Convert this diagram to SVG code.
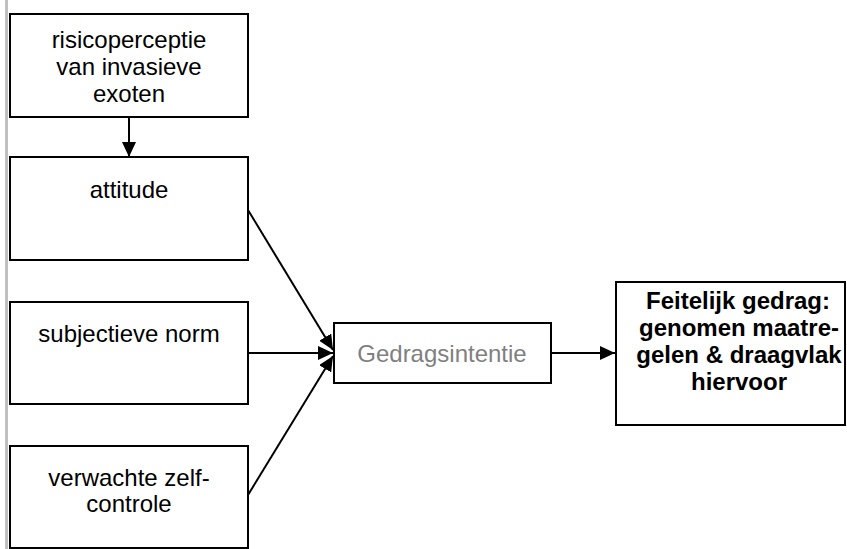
<svg xmlns="http://www.w3.org/2000/svg" width="847" height="549" viewBox="0 0 847 549">
  <style>
    .box { fill: #ffffff; stroke: #000000; stroke-width: 2; }
    .t { font-family: "Liberation Sans", Arial, sans-serif; font-size: 24px; fill: #000000; text-anchor: middle; }
    .b { font-weight: bold; }
    .g { fill: #808080; }
    .c { stroke: #000000; stroke-width: 2; fill: none; }
  </style>
  <defs>
    <marker id="ah" viewBox="0 0 15 14" refX="15" refY="7" markerWidth="15" markerHeight="14" markerUnits="userSpaceOnUse" orient="auto">
      <path d="M0,0 L15,7 L0,14 z" fill="#000000"/>
    </marker>
  </defs>
  <rect x="0" y="0" width="847" height="549" fill="#ffffff"/>
  <rect x="5" y="0" width="3" height="549" fill="#c0c0c0"/>

  <g id="risico">
    <rect class="box" x="10" y="14" width="238" height="103"/>
    <text class="t" x="129" y="48">risicoperceptie</text>
    <text class="t" x="129" y="75">van invasieve</text>
    <text class="t" x="129" y="102">exoten</text>
  </g>
  <g id="attitude">
    <rect class="box" x="10" y="157" width="238" height="103"/>
    <text class="t" x="129" y="198">attitude</text>
  </g>
  <g id="norm">
    <rect class="box" x="10" y="302" width="238" height="102"/>
    <text class="t" x="129" y="342">subjectieve norm</text>
  </g>
  <g id="zelfcontrole">
    <rect class="box" x="10" y="446" width="238" height="102"/>
    <text class="t" x="129" y="486">verwachte zelf-</text>
    <text class="t" x="129" y="512">controle</text>
  </g>
  <g id="intentie">
    <rect class="box" x="334" y="323" width="217" height="60"/>
    <text class="t g" x="442" y="362">Gedragsintentie</text>
  </g>
  <g id="gedrag">
    <rect class="box" x="616" y="282" width="229" height="143"/>
    <text class="t b" x="738" y="309">Feitelijk gedrag:</text>
    <text class="t b" x="739" y="336">genomen maatre-</text>
    <text class="t b" x="739" y="363">gelen &amp; draagvlak</text>
    <text class="t b" x="739" y="390">hiervoor</text>
  </g>

  <g id="connectors">
    <line class="c" x1="129" y1="117" x2="129" y2="157" marker-end="url(#ah)"/>
    <line class="c" x1="248" y1="210" x2="333" y2="350" marker-end="url(#ah)"/>
    <line class="c" x1="248" y1="353" x2="333" y2="353" marker-end="url(#ah)"/>
    <line class="c" x1="248" y1="495" x2="333" y2="356" marker-end="url(#ah)"/>
    <line class="c" x1="551" y1="353" x2="615" y2="353" marker-end="url(#ah)"/>
  </g>
</svg>
